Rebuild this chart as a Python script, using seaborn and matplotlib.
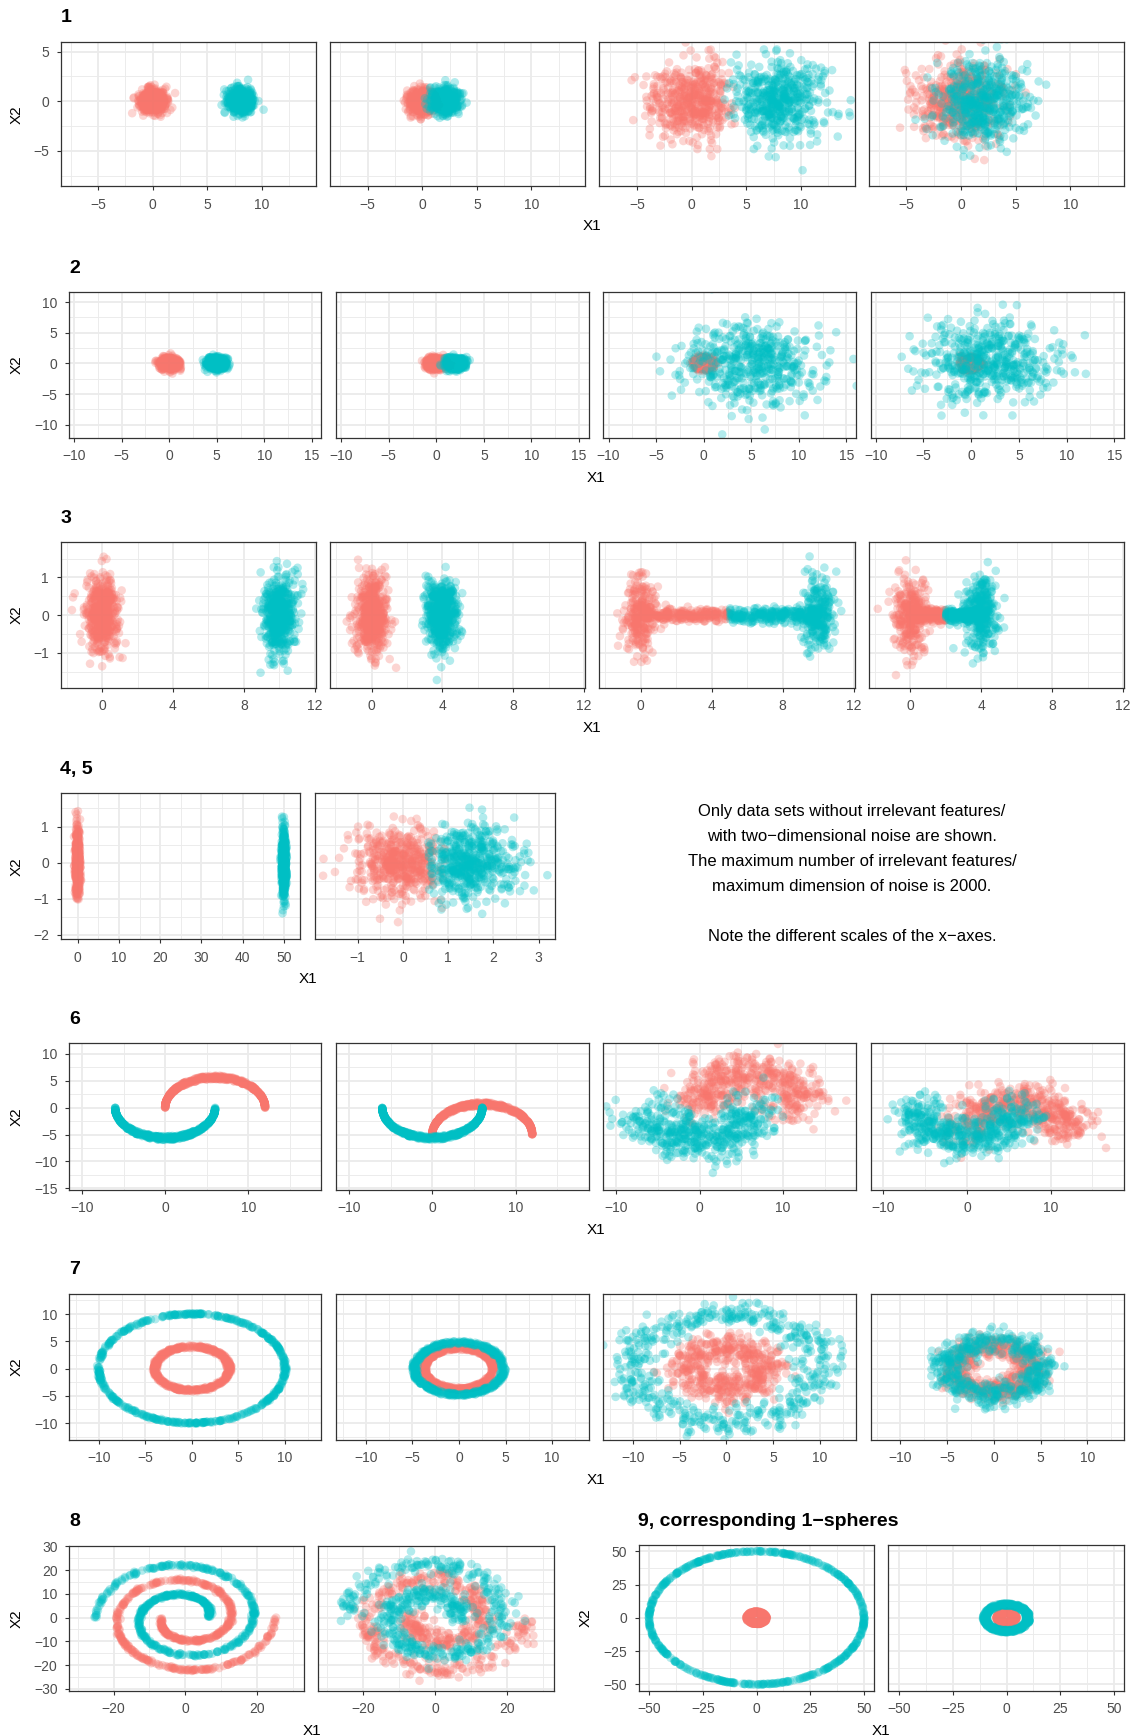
import numpy as np
import pandas as pd
import matplotlib
matplotlib.use("Agg")
import matplotlib.pyplot as plt
import seaborn as sns

# ---------------- simulation settings (one entry per panel) ----------------
CLASS_LABELS = ["1", "2"]
CLASS_COLORS = ["#F8766D", "#00BFC4"]
N_PER_CLASS = 500
SEED = 2000

# 1: spherical Gaussians shifted along X1
SIM1_CYAN_SHIFT = [8.0, 2.0, 8.0, 2.0]
SIM1_SD = [0.6, 0.6, 2.0, 2.0]
SIM1_RED_X_MAX = [np.inf, np.inf, 4.0, np.inf]
SIM1_CYAN_X_MIN = [-np.inf, -np.inf, 3.0, -np.inf]

# 2: tight class 1, class 2 with growing spread
SIM2_CYAN_SHIFT = [5.0, 2.0, 5.0, 2.0]
SIM2_RED_SD = [0.5, 0.5, 0.5, 0.5]
SIM2_CYAN_SD = [0.5, 0.5, 3.5, 3.5]

# 3: elongated clusters, joined by a thin bridge in the last two panels
SIM3_CYAN_SHIFT = [10.0, 4.0, 10.0, 4.0]
SIM3_SD_X = 0.45
SIM3_SD_Y = 0.5
SIM3_BRIDGE_SHARE = [0.0, 0.0, 0.5, 0.45]
SIM3_BRIDGE_SD_Y = 0.09

# 4 and 5
SIM45_CYAN_SHIFT = [50.0, 1.5]
SIM45_SD_X = [0.3, 0.5]
SIM45_SD_Y = [0.45, 0.5]
SIM45_RED_X_MAX = [np.inf, 0.95]
SIM45_CYAN_X_MIN = [-np.inf, 0.55]

# 6: two moons
SIM6_RADIUS = 6.0
SIM6_RED_CENTER_X = 6.0
SIM6_RED_SHIFT_Y = [0.0, -5.0, 0.0, -5.0]
SIM6_INNER_FRACTION = 0.88
SIM6_NOISE_SD = [0.0, 0.0, 2.0, 1.8]

# 7: concentric rings
SIM7_RED_RADIUS = [4.0, 3.7, 4.0, 4.0]
SIM7_CYAN_RADIUS = [10.0, 4.8, 10.0, 5.0]
SIM7_RED_WIDTH = [0.4, 0.4, 0.0, 0.0]
SIM7_CYAN_WIDTH = [0.2, 0.5, 0.0, 0.0]
SIM7_NOISE_SD = [0.05, 0.05, 1.3, 1.0]

# 8: interleaved spirals, r = start + growth * angle / pi
SIM8_START_RADIUS = 6.5
SIM8_GROWTH = 6.2
SIM8_HALF_TURNS = 3.0
SIM8_NOISE_SD = [0.25, 2.0]

# 9: 1-spheres
SIM9_RED_RADIUS = [3.2, 4.8]          # inner, outer
SIM9_CYAN_RADIUS = [50.0, 10.0]
SIM9_CYAN_WIDTH = [0.6, 2.0]

# ---------------- axis scales per row ----------------
ROW1_XLIM, ROW1_YLIM = (-8.45, 14.95), (-8.6, 5.97)
ROW1_XTICKS, ROW1_YTICKS = [-5, 0, 5, 10], [-5, 0, 5]
ROW2_XLIM, ROW2_YLIM = (-10.55, 16.0), (-12.1, 11.6)
ROW2_XTICKS, ROW2_YTICKS = [-10, -5, 0, 5, 10, 15], [-10, -5, 0, 5, 10]
ROW3_XLIM, ROW3_YLIM = (-2.35, 12.08), (-1.92, 1.93)
ROW3_XTICKS, ROW3_YTICKS = [0, 4, 8, 12], [-1, 0, 1]
ROW4_XLIMS = [(-4.17, 54.0), (-1.95, 3.36)]
ROW4_YLIM = (-2.12, 1.92)
ROW4_XTICKS = [[0, 10, 20, 30, 40, 50], [-1, 0, 1, 2, 3]]
ROW4_YTICKS = [-2, -1, 0, 1]
ROW6_XLIM, ROW6_YLIM = (-11.55, 18.75), (-15.25, 11.98)
ROW6_XTICKS, ROW6_YTICKS = [-10, 0, 10], [-15, -10, -5, 0, 5, 10]
ROW7_XLIM, ROW7_YLIM = (-13.2, 13.9), (-13.06, 13.73)
ROW7_XTICKS, ROW7_YTICKS = [-10, -5, 0, 5, 10], [-10, -5, 0, 5, 10]
ROW8_XLIM, ROW8_YLIM = (-32.4, 33.0), (-30.8, 30.2)
ROW8_XTICKS, ROW8_YTICKS = [-20, 0, 20], [-30, -20, -10, 0, 10, 20, 30]
ROW9_XLIM, ROW9_YLIM = (-55.0, 54.8), (-55.0, 54.5)
ROW9_XTICKS, ROW9_YTICKS = [-50, -25, 0, 25, 50], [-50, -25, 0, 25, 50]

NOTE_LINES = [
    "Only data sets without irrelevant features/",
    "with two\u2212dimensional noise are shown.",
    "The maximum number of irrelevant features/",
    "maximum dimension of noise is 2000.",
    "",
    "Note the different scales of the x\u2212axes.",
]

rng = np.random.default_rng(SEED)


# ---------------- point generators ----------------
def gauss(n, cx, cy, sx, sy, xmin=-np.inf, xmax=np.inf):
    xs, ys = [], []
    got = 0
    while got < n:
        x = rng.normal(cx, sx, n)
        y = rng.normal(cy, sy, n)
        keep = (x >= xmin) & (x <= xmax)
        xs.append(x[keep]); ys.append(y[keep])
        got += keep.sum()
    return np.concatenate(xs)[:n], np.concatenate(ys)[:n]


def bridged(n, cx, bx0, bx1, share):
    nb = int(round(n * share))
    x, y = gauss(n - nb, cx, 0.0, SIM3_SD_X, SIM3_SD_Y)
    bx = rng.uniform(bx0, bx1, nb)
    by = rng.normal(0.0, SIM3_BRIDGE_SD_Y, nb)
    return np.concatenate([x, bx]), np.concatenate([y, by])


def moon(n, cx, cy, sign, noise):
    t = rng.uniform(0, np.pi, n)
    s = rng.uniform(SIM6_INNER_FRACTION, 1.0, n) if noise == 0 else 1.0
    x = cx + SIM6_RADIUS * np.cos(t) + rng.normal(0, noise, n)
    y = cy + sign * SIM6_RADIUS * np.sin(t) * s + rng.normal(0, noise, n)
    return x, y


def ring(n, r0, r1, noise):
    a = rng.uniform(0, 2 * np.pi, n)
    r = rng.uniform(r0, r1, n)
    x = r * np.cos(a) + rng.normal(0, noise, n) if noise > 0 else r * np.cos(a)
    y = r * np.sin(a) + rng.normal(0, noise, n) if noise > 0 else r * np.sin(a)
    return x, y


def spiral(n, sign, noise):
    phi = rng.uniform(0, SIM8_HALF_TURNS * np.pi, n)
    r = SIM8_START_RADIUS + SIM8_GROWTH * phi / np.pi
    x = sign * r * np.cos(phi) + rng.normal(0, noise, n)
    y = sign * r * np.sin(phi) + rng.normal(0, noise, n)
    return x, y


def frame(red, cyan):
    return pd.DataFrame({
        "X1": np.concatenate([red[0], cyan[0]]),
        "X2": np.concatenate([red[1], cyan[1]]),
        "cls": [CLASS_LABELS[0]] * len(red[0]) + [CLASS_LABELS[1]] * len(cyan[0]),
    })


n = N_PER_CLASS
row1 = [frame(gauss(n, 0, 0, SIM1_SD[i], SIM1_SD[i], xmax=SIM1_RED_X_MAX[i]),
              gauss(n, SIM1_CYAN_SHIFT[i], 0, SIM1_SD[i], SIM1_SD[i], xmin=SIM1_CYAN_X_MIN[i]))
        for i in range(4)]
row2 = [frame(gauss(n, 0, 0, SIM2_RED_SD[i], SIM2_RED_SD[i]),
              gauss(n, SIM2_CYAN_SHIFT[i], 0, SIM2_CYAN_SD[i], SIM2_CYAN_SD[i]))
        for i in range(4)]
row3 = []
for i in range(4):
    mid = SIM3_CYAN_SHIFT[i] / 2
    row3.append(frame(bridged(n, 0.0, 0.0, mid, SIM3_BRIDGE_SHARE[i]),
                      bridged(n, SIM3_CYAN_SHIFT[i], mid, SIM3_CYAN_SHIFT[i], SIM3_BRIDGE_SHARE[i])))
row4 = [frame(gauss(n, 0, 0, SIM45_SD_X[i], SIM45_SD_Y[i], xmax=SIM45_RED_X_MAX[i]),
              gauss(n, SIM45_CYAN_SHIFT[i], 0, SIM45_SD_X[i], SIM45_SD_Y[i], xmin=SIM45_CYAN_X_MIN[i]))
        for i in range(2)]
row6 = [frame(moon(n, SIM6_RED_CENTER_X, SIM6_RED_SHIFT_Y[i], 1, SIM6_NOISE_SD[i]),
              moon(n, 0.0, 0.0, -1, SIM6_NOISE_SD[i]))
        for i in range(4)]
row7 = [frame(ring(n, SIM7_RED_RADIUS[i] - SIM7_RED_WIDTH[i] / 2, SIM7_RED_RADIUS[i] + SIM7_RED_WIDTH[i] / 2, SIM7_NOISE_SD[i]),
              ring(n, SIM7_CYAN_RADIUS[i] - SIM7_CYAN_WIDTH[i] / 2, SIM7_CYAN_RADIUS[i] + SIM7_CYAN_WIDTH[i] / 2, SIM7_NOISE_SD[i]))
        for i in range(4)]
row8 = [frame(spiral(n, -1, SIM8_NOISE_SD[i]), spiral(n, 1, SIM8_NOISE_SD[i])) for i in range(2)]
row9 = [frame(ring(n, SIM9_RED_RADIUS[0], SIM9_RED_RADIUS[1], 0),
              ring(n, SIM9_CYAN_RADIUS[i] - SIM9_CYAN_WIDTH[i] / 2, SIM9_CYAN_RADIUS[i] + SIM9_CYAN_WIDTH[i] / 2, 0))
        for i in range(2)]

# ---------------- drawing ----------------
sns.set_theme(style="white")
plt.rcParams["font.family"] = ["Liberation Sans", "DejaVu Sans"]
plt.rcParams["axes.unicode_minus"] = True

W, H = 1135, 1735
fig = plt.figure(figsize=(W / 100, H / 100), dpi=100)
fig.patch.set_facecolor("white")

GRID = "#EBEBEB"
BORDER = "#333333"
TICKTXT = "#4D4D4D"
PALETTE = dict(zip(CLASS_LABELS, CLASS_COLORS))
POINT_SIZE = 38


def minor_between(ticks, lim):
    step = ticks[1] - ticks[0]
    cand = [ticks[0] - step / 2] + [t + step / 2 for t in ticks]
    return [c for c in cand if lim[0] <= c <= lim[1]]


def panel(l, t, r, b, df, xlim, ylim, xticks, yticks, show_y):
    ax = fig.add_axes([l / W, 1 - b / H, (r - l) / W, (b - t) / H])
    ax.set_axisbelow(True)
    sns.scatterplot(data=df, x="X1", y="X2", hue="cls", hue_order=CLASS_LABELS,
                    palette=PALETTE, s=POINT_SIZE, alpha=0.3, linewidth=0, legend=False, ax=ax)
    ax.set_xlim(xlim)
    ax.set_ylim(ylim)
    ax.set_xticks(xticks)
    ax.set_yticks(yticks)
    ax.set_xticks(minor_between(xticks, xlim), minor=True)
    ax.set_yticks(minor_between(yticks, ylim), minor=True)
    ax.grid(which="major", color=GRID, linewidth=1.3)
    ax.grid(which="minor", color=GRID, linewidth=0.65)
    ax.set_xlabel("")
    ax.set_ylabel("")
    for sp in ax.spines.values():
        sp.set_color(BORDER)
        sp.set_linewidth(0.9)
    ax.tick_params(which="major", length=3.2, width=0.8, color=BORDER,
                   labelsize=10, labelcolor=TICKTXT, pad=5,
                   bottom=True, left=show_y, labelleft=show_y)
    ax.tick_params(which="minor", length=0)
    ax.set_facecolor("white")
    return ax


def title(x, y, s):
    fig.text(x / W, 1 - y / H, s, ha="left", va="center", fontsize=14, fontweight="bold", color="black")


def xlab(x, y):
    fig.text(x / W, 1 - y / H, "X1", ha="center", va="center", fontsize=11, color="black")


def ylab(x, y):
    fig.text(x / W, 1 - y / H, "X2", ha="center", va="center", fontsize=11, color="black", rotation=90)


COLS_A = [(60.5, 316.0), (330.0, 585.5), (599.2, 855.0), (868.6, 1124.4)]
COLS_B = [(69.0, 321.3), (336.0, 588.5), (603.3, 856.0), (870.5, 1123.8)]


def four_row(cols, top, bottom, frames, xlim, ylim, xticks, yticks, label):
    for i, (l, r) in enumerate(cols):
        panel(l, top, r, bottom, frames[i], xlim, ylim, xticks, yticks, i == 0)
    title(cols[0][0], top - 24, label)
    xlab((cols[0][0] + cols[-1][1]) / 2, bottom + 40)
    ylab(16.6, (top + bottom) / 2)


four_row(COLS_A, 42.0, 186.5, row1, ROW1_XLIM, ROW1_YLIM, ROW1_XTICKS, ROW1_YTICKS, "1")
four_row(COLS_B, 292.3, 437.7, row2, ROW2_XLIM, ROW2_YLIM, ROW2_XTICKS, ROW2_YTICKS, "2")
four_row(COLS_A, 542.3, 687.7, row3, ROW3_XLIM, ROW3_YLIM, ROW3_XTICKS, ROW3_YTICKS, "3")

# row with data sets 4 and 5
r4_cols = [(60.5, 300.4), (314.6, 555.0)]
for i, (l, r) in enumerate(r4_cols):
    panel(l, 793.3, r, 939.3, row4[i], ROW4_XLIMS[i], ROW4_YLIM, ROW4_XTICKS[i], ROW4_YTICKS, i == 0)
title(60.5, 769.3, "4, 5")
xlab((60.5 + 555.0) / 2, 939.3 + 40)
ylab(16.6, (793.3 + 939.3) / 2)
for k, line in enumerate(NOTE_LINES):
    if line:
        fig.text(852 / W, 1 - (811.7 + 25 * k) / H, line, ha="center", va="center",
                 fontsize=12, color="black")

four_row(COLS_B, 1043.3, 1189.7, row6, ROW6_XLIM, ROW6_YLIM, ROW6_XTICKS, ROW6_YTICKS, "6")
four_row(COLS_B, 1293.7, 1439.7, row7, ROW7_XLIM, ROW7_YLIM, ROW7_XTICKS, ROW7_YTICKS, "7")

# spirals
r8_cols = [(68.9, 304.2), (318.4, 554.2)]
for i, (l, r) in enumerate(r8_cols):
    panel(l, 1546.0, r, 1690.7, row8[i], ROW8_XLIM, ROW8_YLIM, ROW8_XTICKS, ROW8_YTICKS, i == 0)
title(68.9, 1522.0, "8")
xlab((68.9 + 554.2) / 2, 1690.7 + 40)
ylab(16.6, (1546.0 + 1690.7) / 2)

# spheres
r9_cols = [(638.5, 874.3), (888.2, 1124.4)]
for i, (l, r) in enumerate(r9_cols):
    panel(l, 1545.3, r, 1691.0, row9[i], ROW9_XLIM, ROW9_YLIM, ROW9_XTICKS, ROW9_YTICKS, i == 0)
title(638.5, 1522.0, "9, corresponding 1\u2212spheres")
xlab((638.5 + 1124.4) / 2, 1691.0 + 40)
ylab(586.0, (1545.3 + 1691.0) / 2)

fig.savefig("out.png", dpi=100, facecolor="white")
